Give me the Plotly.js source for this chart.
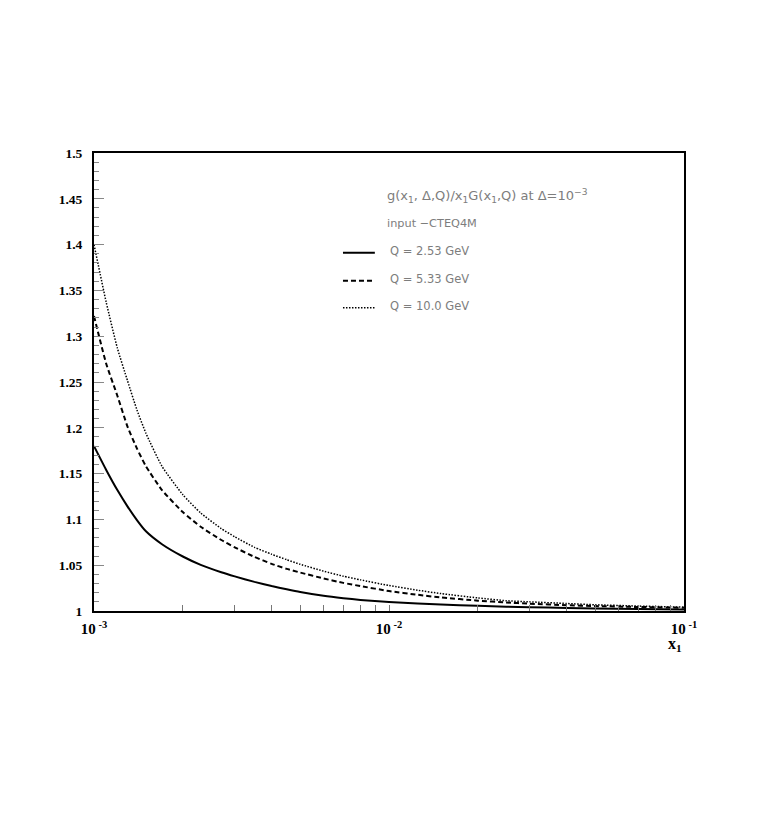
<!DOCTYPE html>
<html>
<head>
<meta charset="utf-8">
<script src="https://cdn.plot.ly/plotly-3.0.1.min.js"></script>
<style>
html,body{margin:0;padding:0;background:#fff;}
#chart{width:763px;height:817px;}
</style>
</head>
<body>
<div id="chart"></div>
<script>
// x1 values (shared grid)
const x1 = [0.001, 0.0011, 0.0012, 0.0013, 0.0014, 0.0015, 0.0017, 0.002, 0.0023, 0.0027, 0.003, 0.0035, 0.004, 0.0045, 0.005, 0.006, 0.007, 0.008, 0.01, 0.0125, 0.015, 0.02, 0.025, 0.03, 0.04, 0.05, 0.07, 0.1];
// Q = 2.53 GeV
const q253 = [1.180, 1.154, 1.132, 1.114, 1.099, 1.087, 1.0729, 1.0595, 1.0504, 1.0423, 1.0378, 1.0318, 1.0272, 1.0237, 1.0208, 1.0166, 1.0140, 1.0121, 1.0098, 1.0083, 1.0071, 1.0057, 1.0047, 1.0041, 1.0033, 1.0028, 1.0022, 1.0017];
// Q = 5.33 GeV
const q533 = [1.322, 1.270, 1.235, 1.201, 1.177, 1.158, 1.132, 1.108, 1.092, 1.0775, 1.0695, 1.059, 1.0515, 1.0460, 1.0420, 1.0355, 1.0307, 1.0272, 1.0218, 1.0177, 1.0148, 1.0113, 1.0093, 1.0080, 1.0063, 1.0054, 1.0044, 1.0035];
// Q = 10.0 GeV
const q100 = [1.400, 1.337, 1.287, 1.251, 1.219, 1.194, 1.158, 1.127, 1.107, 1.090, 1.081, 1.0695, 1.062, 1.056, 1.051, 1.0435, 1.038, 1.0340, 1.0278, 1.0227, 1.0190, 1.0143, 1.0112, 1.0100, 1.0082, 1.0068, 1.0054, 1.0042];

const seriesNames = ["Q = 2.53 GeV", "Q = 5.33 GeV", "Q = 10.0 GeV"];
const seriesDash = ["solid", "5px,3px", "1.5px,1.5px"];
const seriesWidth = [2, 2, 1.5];
const headerLines = ["g(x<sub>1</sub>, \u0394,Q)/x<sub>1</sub>G(x<sub>1</sub>,Q) at \u0394=10<sup>\u22123</sup>", "input \u2212CTEQ4M"];

// x tick positions: decades labelled, minors unlabelled
const xTickVals = [];
const xTickText = [];
[0.001, 0.01].forEach(function(dec){
  for (let m = 1; m <= 9; m++) {
    xTickVals.push(dec * m);
    xTickText.push(m === 1 ? "10<sup> " + Math.round(Math.log10(dec)) + "</sup>" : "");
  }
});
xTickVals.push(0.1); xTickText.push("10<sup> -1</sup>");

const ys = [q253, q533, q100];
const traces = ys.map(function(y, i){
  return {x: x1, y: y, type: "scatter", mode: "lines", name: seriesNames[i],
    line: {color: "#000", width: seriesWidth[i], dash: seriesDash[i], shape: "spline", smoothing: 0.5},
    hoverinfo: "skip"};
});

const textFont = {family: "DejaVu Sans, Liberation Sans, sans-serif", size: 11.5, color: "#7d7d7d"};
const headerSizes = [13, 11.3];
const annotations = [];
const headerY = [0.906, 0.845];
headerLines.forEach(function(t, i){
  annotations.push({xref: "paper", yref: "paper", x: 0.494, y: headerY[i], xanchor: "left", yanchor: "middle",
    text: t, showarrow: false, font: Object.assign({}, textFont, {size: headerSizes[i]})});
});
const legY = [0.786, 0.725, 0.666];
const shapes = [];
seriesNames.forEach(function(n, i){
  annotations.push({xref: "paper", yref: "paper", x: 0.499, y: legY[i], xanchor: "left", yanchor: "middle",
    text: n, showarrow: false, font: textFont});
  shapes.push({type: "line", xref: "paper", yref: "paper", x0: 0.422, x1: 0.476, y0: legY[i] - 0.004, y1: legY[i] - 0.004,
    line: {color: "#000", width: seriesWidth[i], dash: seriesDash[i]}});
});
annotations.push({xref: "paper", yref: "paper", x: 0.985, y: -0.073, xanchor: "center", yanchor: "middle",
  text: "<b>x<sub>1</sub></b>", showarrow: false,
  font: {family: "Liberation Serif, Times New Roman, serif", size: 16, color: "#000"}});

const yTickFont = {family: "Liberation Serif, Times New Roman, serif", size: 13.5, color: "#000", weight: "bold"};
const xTickFont = {family: "Liberation Serif, Times New Roman, serif", size: 15, color: "#000", weight: "bold"};

const layout = {
  width: 763, height: 817,
  margin: {l: 94, r: 79, t: 153, b: 205.5},
  paper_bgcolor: "#fff", plot_bgcolor: "#fff",
  showlegend: false,
  xaxis: {type: "log", range: [-3, -1], tickvals: xTickVals, ticktext: xTickText,
    ticks: "inside", ticklen: 6, tickcolor: "#777", tickwidth: 1,
    showline: true, linecolor: "#000", linewidth: 2, mirror: true,
    showgrid: false, zeroline: false, tickfont: xTickFont, ticklabelstandoff: 3},
  yaxis: {range: [1, 1.5], dtick: 0.05, tick0: 1,
    ticks: "inside", ticklen: 10, tickcolor: "#888", tickwidth: 1,
    minor: {dtick: 0.01, ticks: "inside", ticklen: 5, tickcolor: "#888", tickwidth: 1, showgrid: false},
    showline: true, linecolor: "#000", linewidth: 2, mirror: true,
    showgrid: false, zeroline: false, tickfont: yTickFont, ticklabelstandoff: 7},
  annotations: annotations,
  shapes: shapes
};

Plotly.newPlot("chart", traces, layout, {displayModeBar: false, staticPlot: true});
</script>
</body>
</html>
